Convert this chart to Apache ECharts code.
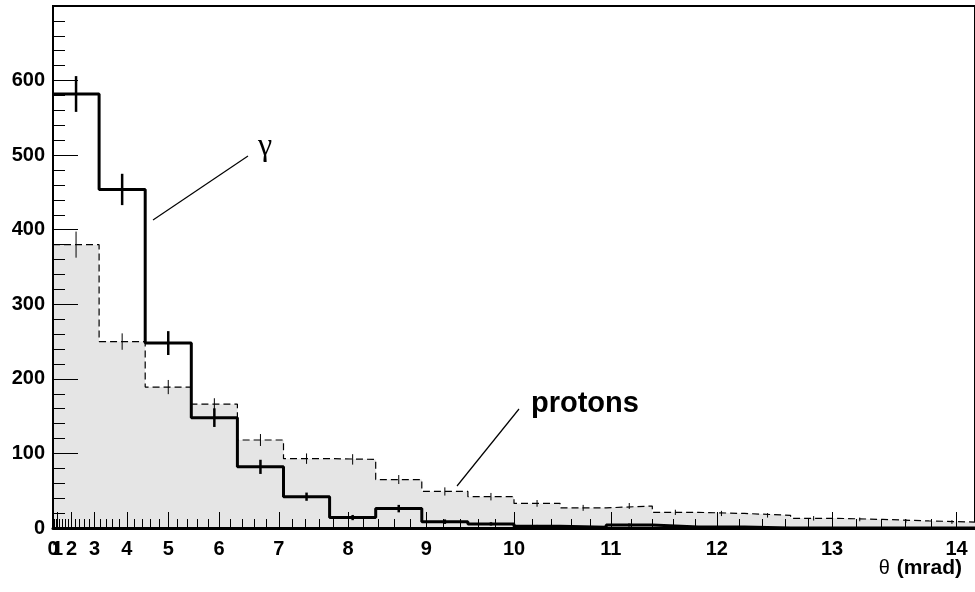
<!DOCTYPE html>
<html><head><meta charset="utf-8">
<script src="https://cdn.jsdelivr.net/npm/echarts@6/dist/echarts.min.js"></script>
<style>html,body{margin:0;padding:0;background:#fff}#c{width:975px;height:592px}</style>
</head><body><div id="c"></div>
<script>
// Histogram bins: uniform in theta^2 (mrad^2), 10 mrad^2 wide
const binEdges = [0,10,20,30,40,50,60,70,80,90,100,110,120,130,140,150,160,170,180,190,200];
const gamma    = [582,454,248,148,82,42,14,26,8.5,5.5,2.5,1,4,1.5,1.5,0,0,0,0,0];
const gammaErr = [24,21,16,12.5,9.5,5.5,3.5,5,3,2.2,1.6,1,2,1.2,1.2,0,0,0,0,0];
const protons  = [380,250,189,166,118,93,92,65,49,42,33,27,29.5,21,19.5,17,13,11.5,9.5,8];
const protonErr= [17.5,11,9.5,8,8,7,7,6,5.5,5,4.5,4,4,3.5,3.5,3,3,2.5,2.5,2.5];
const thetaTickLabels = [0,1,2,3,4,5,6,7,8,9,10,11,12,13,14]; // mrad
const yTickLabels = [0,100,200,300,400,500,600];

const majorPos = thetaTickLabels.map(t => t * t);
const evenLabelPos = thetaTickLabels.filter(t => t % 2 === 0).map(t => t * t);
const oddLabelPos = thetaTickLabels.filter(t => t % 2 === 1).map(t => t * t);
const labelByPos = {};
thetaTickLabels.forEach(t => { labelByPos[t * t] = String(t); });
const minorPos = [];
for (let i = 1; i < thetaTickLabels[thetaTickLabels.length - 1] * 5; i++) {
  if (i % 5 !== 0) { const t = i / 5; minorPos.push(t * t); }
}

function stepData(vals) {
  const d = vals.map((v, i) => [binEdges[i], v]);
  d.push([binEdges[binEdges.length - 1], vals[vals.length - 1]]);
  return d;
}
function errData(vals, errs) {
  return vals.map((v, i) => [(binEdges[i] + binEdges[i + 1]) / 2, v, errs[i]]);
}
function errRender(width) {
  return function (params, api) {
    const x = api.value(0), v = api.value(1), e = api.value(2);
    if (!e) return null;
    const p1 = api.coord([x, v - e]), p2 = api.coord([x, v + e]);
    return { type: 'line', shape: { x1: p1[0], y1: p1[1], x2: p2[0], y2: p2[1] },
      style: { stroke: '#000', lineWidth: width } };
  };
}

const font = '"Liberation Sans", Arial, sans-serif';
const xLabelStyle = { show: true, margin: 11, showMinLabel: true, showMaxLabel: true, hideOverlap: false,
  formatter: v => labelByPos[v] ?? '', color: '#000', fontWeight: 'bold', fontSize: 20, fontFamily: font };
const chart = echarts.init(document.getElementById('c'), null, { renderer: 'canvas' });
chart.setOption({
  animation: false,
  backgroundColor: '#fff',
  grid: { left: 53, top: 6, right: -11.6, bottom: 64, show: true, borderColor: '#000', borderWidth: 2, backgroundColor: 'transparent' },
  xAxis: [{
    type: 'value', min: 0, max: 200, z: 5,
    axisLine: { show: true, onZero: false, lineStyle: { color: '#000', width: 3 } },
    axisTick: { show: true, inside: true, length: 16, customValues: majorPos, lineStyle: { color: '#000', width: 1 } },
    axisLabel: Object.assign({}, xLabelStyle, { customValues: evenLabelPos }),
    splitLine: { show: false }
  }, {
    type: 'value', min: 0, max: 200, z: 5, position: 'bottom',
    axisLine: { show: false },
    axisTick: { show: true, inside: true, length: 9, customValues: minorPos, lineStyle: { color: '#000', width: 1 } },
    axisLabel: Object.assign({}, xLabelStyle, { customValues: oddLabelPos }),
    splitLine: { show: false }
  }],
  yAxis: {
    type: 'value', min: 0, max: 700, interval: 100, z: 5,
    axisLine: { show: true, lineStyle: { color: '#000', width: 2 } },
    axisTick: { show: true, inside: true, length: 25, lineStyle: { color: '#000', width: 1 } },
    minorTick: { show: true, splitNumber: 5, length: 12, lineStyle: { color: '#000', width: 1 } },
    axisLabel: { show: true, customValues: yTickLabels, margin: 8, color: '#000', fontWeight: 'bold', fontSize: 20, fontFamily: font },
    splitLine: { show: false }, minorSplitLine: { show: false }
  },
  series: [
    { name: 'protons', type: 'line', step: 'end', data: stepData(protons), showSymbol: false, z: 2,
      lineStyle: { color: '#000', width: 1.2, type: [7, 4] }, areaStyle: { color: '#e5e5e5', opacity: 1 } },
    { name: 'protonErr', type: 'custom', data: errData(protons, protonErr), renderItem: errRender(1), z: 3 },
    { name: 'gamma', type: 'line', step: 'end', data: stepData(gamma), showSymbol: false, z: 6,
      lineStyle: { color: '#000', width: 3 } },
    { name: 'gammaErr', type: 'custom', data: errData(gamma, gammaErr), renderItem: errRender(2.5), z: 7 }
  ],
  graphic: [
    { type: 'line', shape: { x1: 153, y1: 220, x2: 248, y2: 156 }, style: { stroke: '#000', lineWidth: 1.2 }, z: 10 },
    { type: 'text', x: 265, y: 147, z: 10, style: { text: 'γ', font: 'normal 32px "Liberation Serif", "DejaVu Serif", serif', fill: '#000', align: 'center', verticalAlign: 'middle' } },
    { type: 'line', shape: { x1: 457, y1: 486, x2: 519, y2: 409 }, style: { stroke: '#000', lineWidth: 1.2 }, z: 10 },
    { type: 'text', x: 531, y: 404, z: 10, style: { text: 'protons', font: 'bold 29px ' + font, fill: '#000', align: 'left', verticalAlign: 'middle' } },
    { type: 'text', x: 962, y: 568, z: 10, style: { text: '{a|θ}  {b|(mrad)}', align: 'right', verticalAlign: 'middle',
      rich: { a: { font: 'normal 20px ' + font, fill: '#000' }, b: { font: 'bold 21px ' + font, fill: '#000' } } } }
  ]
});
</script></body></html>
